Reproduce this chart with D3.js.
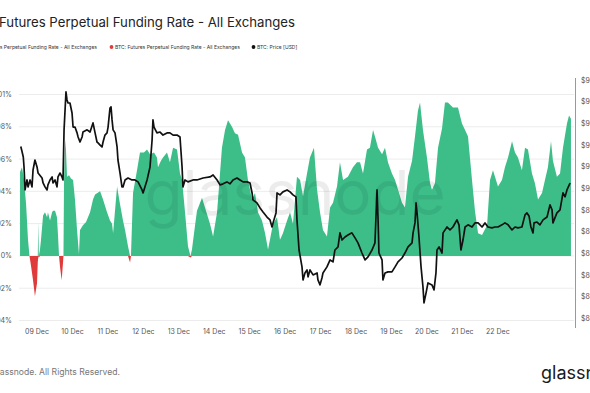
<!DOCTYPE html>
<html>
<head>
<meta charset="utf-8">
<script src="https://cdn.jsdelivr.net/npm/d3@7"></script>
<style>
  body { margin: 0; background: #fff; }
  svg { display: block; font-family: Inter, "Open Sans", sans-serif; }
</style>
</head>
<body>
<div id="chart"></div>
<script>
// hours since 2025-12-09 00:00 UTC
const fundingHours = [-11.5,-10.2,-8.8,-7.4,-6.1,-5.1,-4.1,-2.7,-1.4,0,0.5,0.9,1.2,2.0,2.7,4.1,5.4,6.8,7.4,8.8,10.2,10.8,12.2,13.5,14.2,14.9,15.6,16.7,17.6,17.9,18.3,19.0,19.6,20.3,21.7,23.0,24.4,25.7,27.1,28.4,29.1,31.1,33.2,35.9,37.9,39.3,42.7,44.7,47.4,49.4,50.8,51.5,52.8,54.2,56.2,58.2,59.6,61.6,63.0,63.6,65.0,67.7,69.7,72.4,74.5,76.5,79.2,81.2,81.9,83.9,85.3,88.0,90.0,92.1,94.8,96.8,98.2,100.2,102.2,103.9,104.9,107.0,108.3,111.7,113.7,117.1,119.2,121.9,125.2,127.3,129.3,132.0,134.0,136.1,138.8,140.8,142.8,145.6,147.6,149.6,152.3,154.4,156.4,157.7,159.8,162.5,164.5,166.5,169.3,171.3,173.3,176.0,178.1,180.1,182.8,184.8,187.5,189.6,191.6,193.6,196.3,198.4,200.4,203.1,205.1,207.2,210.5,213.9,216.6,218.7,220.7,223.4,225.4,227.5,228.8,230.9,233.6,235.6,237.6,240.3,242.4,244.4,247.1,249.1,251.2,253.9,255.9,257.9,259.3,261.3,264.0,266.1,267.4,269.4,271.5,274.2,276.2,278.2,281.6,285.0,287.7,289.8,291.8,294.5,296.5,298.6,301.3,304.7,306.7,308.7,312.1,314.8,316.8,318.9,321.6,323.6,325.6,328.3,330.4,332.4,335.1,337.1,339.2,341.9,343.9,345.9,348.0,349.3,352.0,354.1,356.1,358.8,360.2,361.5];
// funding rate in %
const fundingRate = [0.0052,0.0055,0.0047,0.0032,0.0010,0,-0.0006,-0.0015,-0.0025,-0.0017,-0.0004,0.0021,-0.0001,0.0004,0.0010,0.0025,0.0027,0.0024,0.0027,0.0022,0.0027,0.0028,0.0028,0.0024,0.0013,0,-0.0007,-0.0015,-0.0004,0,0.0047,0.0072,0.0066,0.0049,0.0050,0.0048,0.0047,0.0035,0.0016,0.0001,0.0016,0.0019,0.0021,0.0027,0.0035,0.0038,0.0040,0.0035,0.0027,0.0022,0.0020,0.0014,0.0028,0.0043,0.0032,0.0022,0.0016,0.0006,-0.0004,0,0.0039,0.0053,0.0064,0.0064,0.0066,0.0063,0.0064,0.0061,0.0055,0.0059,0.0061,0.0064,0.0058,0.0067,0.0066,0.0051,0.0047,0.0027,0.0006,-0.0001,0.0004,0.0019,0.0028,0.0036,0.0030,0.0020,0.0012,0.0027,0.0067,0.0078,0.0084,0.0080,0.0076,0.0075,0.0064,0.0061,0.0047,0.0035,0.0039,0.0027,0.0022,0.0014,0.0004,0.0010,0.0020,0.0024,0.0010,0.0014,0.0022,0.0027,0.0020,0.0049,0.0047,0.0037,0.0051,0.0061,0.0067,0.0041,0.0027,0.0016,0.0012,0.0030,0.0033,0.0043,0.0058,0.0047,0.0049,0.0055,0.0058,0.0058,0.0051,0.0066,0.0067,0.0078,0.0074,0.0067,0.0063,0.0067,0.0058,0.0051,0.0047,0.0041,0.0033,0.0030,0.0049,0.0059,0.0074,0.0090,0.0095,0.0078,0.0061,0.0045,0.0041,0.0045,0.0067,0.0079,0.0095,0.0095,0.0092,0.0092,0.0082,0.0078,0.0074,0.0047,0.0028,0.0014,0.0013,0.0019,0.0047,0.0053,0.0043,0.0047,0.0055,0.0061,0.0071,0.0064,0.0061,0.0053,0.0067,0.0066,0.0051,0.0045,0.0035,0.0039,0.0047,0.0055,0.0071,0.0059,0.0049,0.0051,0.0067,0.0082,0.0087,0.0085];

const priceHours = [-11.0,-10.4,-9.3,-8.8,-8.1,-6.8,-6.1,-4.7,-3.4,-2.7,-1.4,0,0.7,3.4,4.1,5.4,6.8,7.4,8.8,10.2,10.8,12.2,13.5,14.2,15.6,16.9,17.6,18.3,19.6,20.3,21.0,22.3,23.7,24.4,25.7,27.1,27.8,29.1,30.5,31.1,33.9,35.9,37.9,39.3,40.6,41.3,42.7,44.0,44.7,46.0,47.4,48.1,49.4,50.1,50.8,51.5,52.8,54.2,54.8,56.2,57.5,58.2,59.6,61.6,64.3,66.3,68.4,71.1,71.8,74.5,76.5,77.9,78.5,79.2,81.2,83.3,85.3,88.0,90.0,92.1,94.8,96.8,98.2,98.8,100.2,102.2,105.6,108.3,112.4,117.1,119.2,121.9,123.9,125.9,128.6,130.7,132.7,135.4,137.4,139.5,142.2,144.2,145.6,146.2,148.9,151.0,153.0,155.7,157.7,159.1,159.8,161.8,162.5,164.5,166.5,169.3,171.3,173.3,175.3,176.0,177.4,179.4,180.1,181.4,182.8,183.5,184.8,186.9,189.6,190.2,191.6,192.9,193.6,196.3,198.4,200.4,201.7,203.8,205.1,206.5,208.5,210.5,213.2,215.3,217.3,220.0,222.1,224.1,226.8,228.8,230.2,230.9,231.5,233.6,234.2,235.6,237.6,240.3,242.4,244.4,247.1,249.1,251.2,253.9,254.6,255.9,256.6,257.3,258.6,260.0,261.3,262.0,263.4,264.7,267.4,268.8,270.1,270.8,272.2,274.2,274.9,277.6,279.6,281.6,284.3,285.7,287.0,288.4,289.8,291.8,294.5,296.5,298.6,301.3,303.3,305.3,308.0,310.1,312.1,314.8,316.8,318.9,321.6,323.6,325.6,328.3,330.4,331.7,333.1,334.4,335.8,336.5,338.5,340.5,342.6,345.3,347.3,348.7,349.3,352.0,354.1,356.1,357.5,358.8,360.9];
// BTC price in USD
const priceUsd = [91930,91770,91450,90990,89930,90390,90070,90390,90070,90850,91310,90990,90710,90480,90250,90070,89930,90160,90390,90530,90250,90390,90070,90530,90710,90530,90390,92700,94450,94080,93940,93940,93480,92830,92830,92560,92370,92140,92370,92600,92700,92600,93020,92560,92140,92100,92000,91910,92140,92460,92560,92830,93710,93760,93160,92700,92560,91910,91310,90710,90070,90070,90390,90480,90390,90390,90300,89930,89790,90390,90990,92230,93160,92830,92560,92600,92460,92560,92560,92460,92460,92370,90990,90070,90390,90300,90390,90390,90480,90530,90620,90390,90160,90210,90300,90210,90390,90480,90390,90300,90300,90250,89790,89470,89330,89100,88915,88680,88550,88220,88410,88870,89790,89700,89840,89930,89840,89700,89610,88550,87160,86380,85780,86100,86240,85920,86240,86010,86100,85780,85550,85870,86100,86380,86700,86610,87160,87300,87950,87620,87760,87850,87950,87720,87490,87020,86700,86840,87160,87490,89930,88550,87020,86700,85780,86100,86150,86150,86380,86610,86790,87020,87300,87490,87950,88410,89330,88870,87760,86380,85460,84720,85180,85640,85550,85320,86100,87160,87300,87020,87950,88220,88085,88220,88550,88320,87160,87620,88220,88320,88220,88410,88410,88220,88410,88220,88180,88220,88220,88320,88410,88320,88085,88220,88180,88220,88780,88870,88730,88220,87950,88410,88450,88320,88550,88680,89240,89010,88410,88870,89010,89790,89610,89930,90250];

const rateTicks = [0.01, 0.008, 0.006, 0.004, 0.002, 0, -0.002, -0.004];
const rateTickLabels = ["0.01%", "0.008%", "0.006%", "0.004%", "0.002%", "0%", "-0.002%", "-0.004%"];
const priceTicks = [95000, 94000, 93000, 92000, 91000, 90000, 89000, 88000, 87000, 86000, 85000, 84000];
const dayTicks = ["2025-12-09","2025-12-10","2025-12-11","2025-12-12","2025-12-13","2025-12-14","2025-12-15","2025-12-16","2025-12-17","2025-12-18","2025-12-19","2025-12-20","2025-12-21","2025-12-22"];

const base = Date.UTC(2025, 11, 9);
const H = 3600 * 1000;
const funding = fundingHours.map((h, i) => ({ t: new Date(base + h * H), v: fundingRate[i] }));
const price = priceHours.map((h, i) => ({ t: new Date(base + h * H), v: priceUsd[i] }));

const svg = d3.select('#chart')
  .append('svg')
  .attr('width', 590)
  .attr('height', 393);

const x = d3.scaleUtc()
  .domain([new Date(base - 12 * H), new Date(base + 362 * H)])
  .range([19.3, 571.7]);

const yL = d3.scaleLinear().domain([-0.004, 0.01]).range([320.5, 94.5]);
const yR = d3.scaleLinear().domain([84000, 95000]).range([318.5, 80]);

// title + legend
svg.append('text')
  .attr('x', -1).attr('y', 27)
  .attr('font-size', 13.2).attr('fill', '#222')
  .text('Futures Perpetual Funding Rate - All Exchanges');

const legendY = 47;
svg.append('text')
  .attr('x', 97).attr('y', legendY + 1.8)
  .attr('text-anchor', 'end')
  .attr('font-size', 5).attr('fill', '#333')
  .text('BTC: Futures Perpetual Funding Rate - All Exchanges');
svg.append('circle').attr('cx', 111.5).attr('cy', legendY).attr('r', 1.9).attr('fill', '#e03b3b');
svg.append('text')
  .attr('x', 115).attr('y', legendY + 1.8)
  .attr('font-size', 5).attr('fill', '#333')
  .text('BTC: Futures Perpetual Funding Rate - All Exchanges');
svg.append('circle').attr('cx', 253.5).attr('cy', legendY).attr('r', 1.9).attr('fill', '#111');
svg.append('text')
  .attr('x', 257).attr('y', legendY + 1.8)
  .attr('font-size', 5).attr('fill', '#333')
  .text('BTC: Price [USD]');

// grid
svg.append('g')
  .selectAll('line')
  .data(rateTicks)
  .join('line')
  .attr('x1', 19).attr('x2', 574)
  .attr('y1', d => yL(d)).attr('y2', d => yL(d))
  .attr('stroke', '#ececec').attr('stroke-width', 1);

// left tick labels
svg.append('g')
  .selectAll('text')
  .data(rateTicks)
  .join('text')
  .attr('x', 12).attr('y', d => yL(d) + 2.5)
  .attr('text-anchor', 'end')
  .attr('font-size', 7).attr('fill', '#555')
  .text((d, i) => rateTickLabels[i]);

// funding areas
const areaPos = d3.area()
  .x(d => x(d.t))
  .y0(yL(0))
  .y1(d => yL(Math.max(d.v, 0)));
const areaNeg = d3.area()
  .x(d => x(d.t))
  .y0(yL(0))
  .y1(d => yL(Math.min(d.v, 0)));

svg.append('path').datum(funding).attr('d', areaPos).attr('fill', '#3dbe89');
svg.append('path').datum(funding).attr('d', areaNeg).attr('fill', '#e03b3b');

// watermark
svg.append('text')
  .attr('x', 295).attr('y', 215)
  .attr('text-anchor', 'middle')
  .attr('font-size', 62)
  .attr('fill', '#000').attr('opacity', 0.07)
  .text('glassnode');

// price line
const line = d3.line()
  .x(d => x(d.t))
  .y(d => yR(d.v));
svg.append('path').datum(price)
  .attr('d', line)
  .attr('fill', 'none')
  .attr('stroke', '#111')
  .attr('stroke-width', 1.7)
  .attr('stroke-linejoin', 'round');

// right axis
svg.append('line')
  .attr('x1', 575.5).attr('x2', 575.5)
  .attr('y1', 78).attr('y2', 328)
  .attr('stroke', '#999').attr('stroke-width', 1);
svg.append('g')
  .selectAll('text')
  .data(priceTicks)
  .join('text')
  .attr('x', 581).attr('y', d => yR(d) + 2.5)
  .attr('font-size', 7).attr('fill', '#555')
  .text(d => '$' + (d / 1000) + 'k');

// x axis labels
svg.append('g')
  .selectAll('text')
  .data(dayTicks)
  .join('text')
  .attr('x', d => x(new Date(d + 'T00:00:00Z')))
  .attr('y', 334)
  .attr('text-anchor', 'middle')
  .attr('font-size', 7).attr('fill', '#555')
  .text(d => d3.utcFormat('%d %b')(new Date(d + 'T00:00:00Z')));

// footer
svg.append('text')
  .attr('x', 120).attr('y', 375)
  .attr('text-anchor', 'end')
  .attr('font-size', 8.6).attr('fill', '#777')
  .text('© 2025 Glassnode. All Rights Reserved.');
svg.append('text')
  .attr('x', 541).attr('y', 379)
  .attr('font-size', 18).attr('fill', '#1a1a1a')
  .text('glassnode');
</script>
</body>
</html>
